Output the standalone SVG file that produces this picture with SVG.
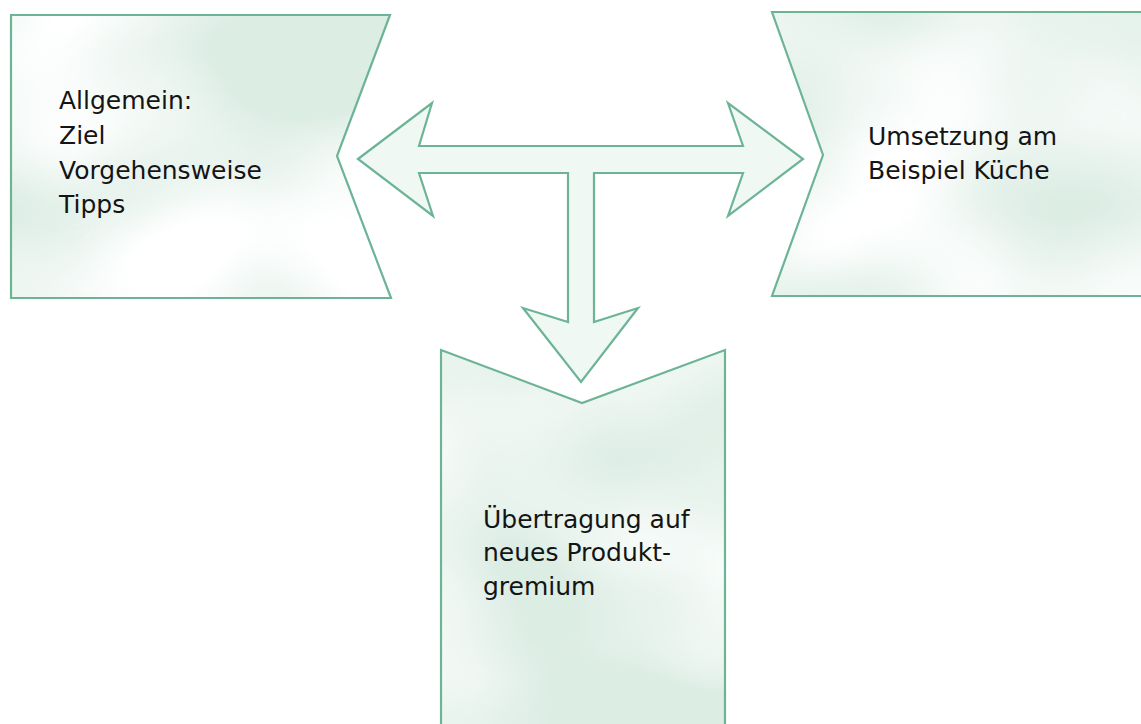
<svg xmlns="http://www.w3.org/2000/svg" width="1141" height="724" viewBox="0 0 1141 724">
<style>
.fill{fill:#dcede4;stroke:none;filter:url(#mottle)}
.edge{fill:none;stroke:#6db497;stroke-width:2.2;stroke-linejoin:miter}
.arrow{fill:#f0f8f4;stroke:#6db497;stroke-width:2.2;stroke-linejoin:miter}
.lbl{font-family:"DejaVu Sans","Liberation Sans",sans-serif;font-size:25px;fill:#141414}
</style>
<defs>
<filter id="mottle" x="0" y="0" width="1" height="1" color-interpolation-filters="sRGB">
<feTurbulence type="fractalNoise" baseFrequency="0.004 0.006" numOctaves="2" seed="11" result="noise"/>
<feGaussianBlur in="noise" stdDeviation="8" result="soft"/>
<feColorMatrix in="soft" type="matrix" values="0 0 0 0 1  0 0 0 0 1  0 0 0 0 1  2.6 0 0 0 -0.95" result="white"/>
<feComposite in="white" in2="SourceGraphic" operator="in" result="spots"/>
<feMerge><feMergeNode in="SourceGraphic"/><feMergeNode in="spots"/></feMerge>
</filter>
</defs>
<rect width="1141" height="724" fill="#ffffff"/>
<g id="node-allgemein">
<polygon class="fill" points="11,15 390,15 337,156 391,298 11,298"/>
<polygon class="edge" points="11,15 390,15 337,156 391,298 11,298"/>
<text class="lbl" x="59" y="109">Allgemein:</text>
<text class="lbl" x="59" y="143.5">Ziel</text>
<text class="lbl" x="59" y="178.5">Vorgehensweise</text>
<text class="lbl" x="59" y="213">Tipps</text>
</g>
<g id="node-umsetzung">
<polygon class="fill" points="772,12 1150,12 1150,296 772,296 823,155"/>
<polygon class="edge" points="772,12 1150,12 1150,296 772,296 823,155"/>
<text class="lbl" x="868" y="145">Umsetzung am</text>
<text class="lbl" x="868" y="178.5">Beispiel Küche</text>
</g>
<g id="node-uebertragung">
<polygon class="fill" points="441,350 582,403 725,350 725,735 441,735"/>
<polygon class="edge" points="441,350 582,403 725,350 725,735 441,735"/>
<text class="lbl" x="483" y="527.5">Übertragung auf</text>
<text class="lbl" x="483" y="561">neues Produkt-</text>
<text class="lbl" x="483" y="595">gremium</text>
</g>
<g id="connectors">
<polygon class="arrow" points="358,159 432,103 419,146 743,146 728,103 803,159 728,216 743,173 594,173 594,322 638,308 581,382 523,308 568,322 568,173 419,173 433,216"/>
</g>
</svg>
